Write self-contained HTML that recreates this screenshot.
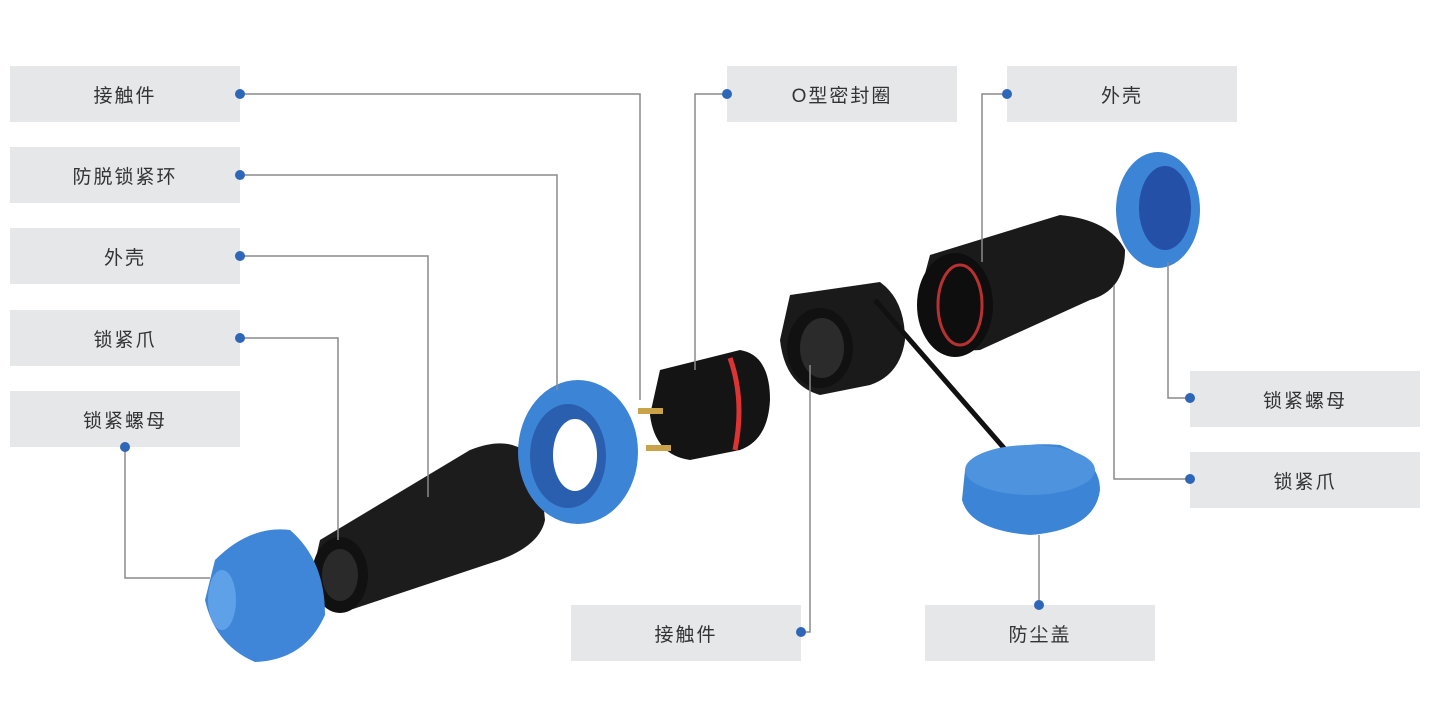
<!DOCTYPE html>
<html><head><meta charset="utf-8"><style>
body{margin:0;background:#fff;width:1433px;height:712px;overflow:hidden}
.b{position:absolute;width:230px;height:56px;background:#e6e7e8;color:#333;font:19px "Liberation Sans","Noto Sans CJK SC",sans-serif;letter-spacing:2px;display:flex;align-items:center;justify-content:center}
svg{position:absolute;left:0;top:0}
</style></head><body>
<div class="b" style="left:10px;top:66px">接触件</div>
<div class="b" style="left:10px;top:147px">防脱锁紧环</div>
<div class="b" style="left:10px;top:228px">外壳</div>
<div class="b" style="left:10px;top:310px">锁紧爪</div>
<div class="b" style="left:10px;top:391px">锁紧螺母</div>
<div class="b" style="left:727px;top:66px">O型密封圈</div>
<div class="b" style="left:1007px;top:66px">外壳</div>
<div class="b" style="left:1190px;top:371px">锁紧螺母</div>
<div class="b" style="left:1190px;top:452px">锁紧爪</div>
<div class="b" style="left:571px;top:605px">接触件</div>
<div class="b" style="left:925px;top:605px">防尘盖</div>
<svg width="1433" height="712">
<!-- parts -->
<g>
<!-- left body -->
<path d="M320 540 L470 450 Q520 430 540 470 L545 520 Q540 545 500 560 L350 610 Q315 610 312 575 Z" fill="#1c1c1c"/>
<ellipse cx="340" cy="575" rx="28" ry="38" fill="#111"/>
<ellipse cx="340" cy="575" rx="18" ry="26" fill="#2a2a2a"/>
<!-- left nut -->
<path d="M215 560 Q250 525 290 530 Q325 560 325 615 Q305 660 255 662 Q215 645 205 600 Z" fill="#3f86d8"/>
<ellipse cx="222" cy="600" rx="14" ry="30" fill="#5fa1e8"/>
<!-- blue ring -->
<ellipse cx="578" cy="452" rx="60" ry="72" fill="#3c84d6"/>
<ellipse cx="568" cy="456" rx="38" ry="52" fill="#2a5fb0"/>
<ellipse cx="575" cy="455" rx="22" ry="36" fill="#fff"/>
<!-- plug -->
<path d="M660 370 L740 350 Q770 355 770 400 Q768 440 740 450 L690 460 Q655 455 650 415 Z" fill="#141414"/>
<path d="M730 358 Q745 400 735 450" stroke="#d33" stroke-width="5" fill="none"/>
<rect x="638" y="408" width="25" height="6" fill="#c9a24a"/>
<rect x="646" y="445" width="25" height="6" fill="#c9a24a"/>
<!-- socket -->
<path d="M790 295 L880 282 Q905 300 905 340 Q900 375 870 385 L820 395 Q785 385 780 340 Z" fill="#1a1a1a"/>
<ellipse cx="820" cy="348" rx="33" ry="40" fill="#111"/>
<ellipse cx="822" cy="348" rx="22" ry="30" fill="#2b2b2b"/>
<path d="M875 300 L1010 455" stroke="#111" stroke-width="5"/>
<!-- dust cap -->
<path d="M965 470 Q1000 440 1060 445 Q1100 460 1100 490 Q1095 530 1030 535 Q970 530 962 500 Z" fill="#3c84d6"/>
<ellipse cx="1030" cy="470" rx="65" ry="25" fill="#4e93de"/>
<!-- right body -->
<path d="M930 255 L1060 215 Q1110 220 1125 250 Q1125 290 1090 300 L980 350 Q925 355 918 300 Z" fill="#1a1a1a"/>
<ellipse cx="955" cy="305" rx="38" ry="52" fill="#0e0e0e"/>
<ellipse cx="960" cy="305" rx="22" ry="40" fill="none" stroke="#b83030" stroke-width="3"/>
<!-- right nut -->
<ellipse cx="1158" cy="210" rx="42" ry="58" fill="#3c84d6"/>
<ellipse cx="1165" cy="208" rx="26" ry="42" fill="#2450a8"/>
</g>
<g stroke="#8a8a8a" stroke-width="1.5" fill="none">
<polyline points="240,94 640,94 640,400"/>
<polyline points="240,175 557,175 557,390"/>
<polyline points="240,256 428,256 428,497"/>
<polyline points="240,338 338,338 338,540"/>
<polyline points="125,447 125,578 210,578"/>
<polyline points="727,94 695,94 695,370"/>
<polyline points="1007,94 982,94 982,262"/>
<polyline points="1190,398 1168,398 1168,262"/>
<polyline points="1190,479 1114,479 1114,285"/>
<polyline points="801,632 810,632 810,365"/>
<polyline points="1039,605 1039,535"/>
</g>
<g fill="#2e66b8">
<circle cx="240" cy="94" r="5"/><circle cx="240" cy="175" r="5"/><circle cx="240" cy="256" r="5"/>
<circle cx="240" cy="338" r="5"/><circle cx="125" cy="447" r="5"/><circle cx="727" cy="94" r="5"/>
<circle cx="1007" cy="94" r="5"/><circle cx="1190" cy="398" r="5"/><circle cx="1190" cy="479" r="5"/>
<circle cx="801" cy="632" r="5"/><circle cx="1039" cy="605" r="5"/>
</g>
</svg>
</body></html>
